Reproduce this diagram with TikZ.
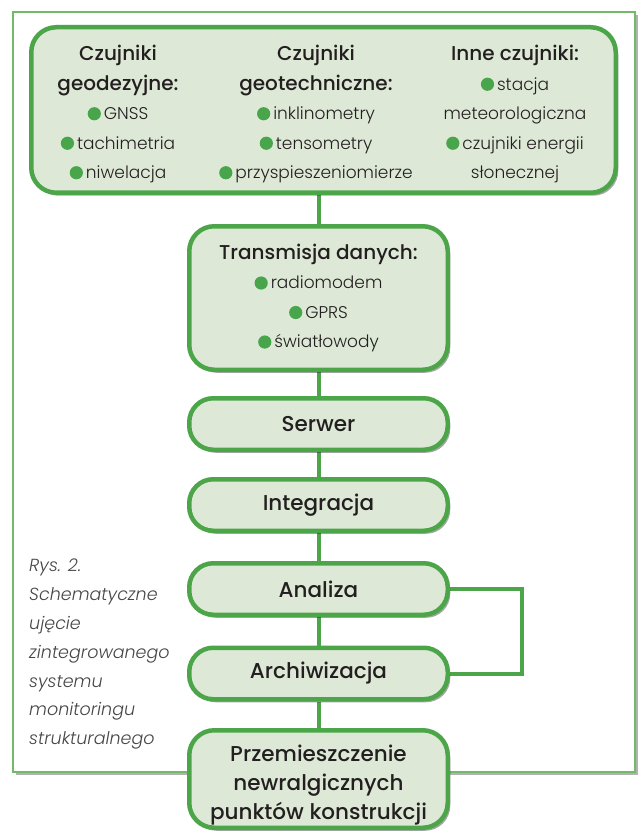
\documentclass[tikz,border=0pt]{standalone}
\usepackage{fontspec}
\setmainfont{Poppins}[UprightFont=* Light, ItalicFont=* Light Italic, BoldFont=* Medium]
\usepackage{tikz}
\usetikzlibrary{positioning,shadows,backgrounds}

\definecolor{boxline}{RGB}{76,166,73}
\definecolor{boxfill}{RGB}{221,233,214}
\definecolor{dotgreen}{RGB}{72,165,75}
\definecolor{frameline}{RGB}{112,186,104}
\definecolor{ink}{RGB}{35,31,32}
\definecolor{capink}{RGB}{70,70,70}

\newcommand{\itemfont}{\fontsize{17}{29.5}\selectfont}
\newcommand{\stagefont}{\fontsize{21.5}{29}\selectfont\bfseries}
\newcommand{\capfont}{\fontsize{17.5}{28.8}\selectfont\itshape}
\newcommand{\hd}[1]{{\fontsize{20}{29.5}\selectfont\bfseries #1}}
\newcommand{\dotmark}{\tikz[baseline=-0.62ex]\fill[dotgreen] (0,0) circle (6.6pt);\hspace{3pt}}

\begin{document}
\begin{tikzpicture}[x=1pt, y=-1pt,
    box/.style={draw=boxline, line width=4.5pt, fill=boxfill, rounded corners=25pt, align=center, text=ink,
        drop shadow={shadow xshift=2.5pt, shadow yshift=-3pt, opacity=0.35, fill=black}},
    stage/.style={box, minimum width=258.5, minimum height=51.5, rounded corners=24pt, font=\stagefont},
    col/.style={align=center, text=ink, font=\itemfont},
    link/.style={draw=boxline, line width=4pt}
]
\useasboundingbox (0,0) rectangle (640,834);

% Sensors
\node[box, minimum width=584.5, minimum height=165.5] (sensors) at (323.5,110) {};
\node[col] (geod) at (118,114) {\hd{Czujniki}\\\hd{geodezyjne:}\\\dotmark GNSS\\\dotmark tachimetria\\\dotmark niwelacja};
\node[col] (geotech) at (316,114) {\hd{Czujniki}\\\hd{geotechniczne:}\\\dotmark inklinometry\\\dotmark tensometry\\\dotmark przyspieszeniomierze};
\node[col] (inne) at (515,114) {\hd{Inne czujniki:}\\\dotmark stacja\\meteorologiczna\\\dotmark czujniki energii\\słonecznej};

% Data transmission
\node[box, minimum width=258.5, minimum height=143.5] (trans) at (318.5,298) {};
\node[col] (transtxt) at (trans) {\hd{Transmisja danych:}\\\dotmark radiomodem\\\dotmark GPRS\\\dotmark światłowody};

% Processing chain
\node[stage] (serwer) at (318.5,424) {Serwer};
\node[stage] (integr) at (318.5,505) {Integracja};
\node[stage] (analiza) at (318.5,589) {Analiza};
\node[stage] (archiw) at (318.5,673.5) {Archiwizacja};
\node[box, minimum width=258.5, minimum height=97.5] (przem) at (318.5,779) {};
\node[col, font=\stagefont, yshift=-6pt] (przemtxt) at (przem) {Przemieszczenie\\newralgicznych\\punktów konstrukcji};

% Caption
\node[anchor=north west, align=left, font=\capfont, text=capink, inner sep=0] (rys) at (29,559)
    {Rys. 2.\\Schematyczne\\ujęcie\\zintegrowanego\\systemu\\monitoringu\\strukturalnego};

% Frame and links behind the boxes
\begin{scope}[on background layer]
\fill[white] (0,0) rectangle (640,834);
\draw[frameline, line width=1.3pt, fill=white,
    drop shadow={shadow xshift=3pt, shadow yshift=-3pt, opacity=0.3, fill=black}] (13,12) rectangle (635,772);
\draw[link] (trans.north |- sensors.south) -- (trans.north);
\draw[link] (trans) -- (serwer) -- (integr) -- (analiza) -- (archiw) -- (przem);
\draw[link] (analiza.east) -- ++(72,0) |- (archiw.east);
\end{scope}

\end{tikzpicture}
\end{document}
